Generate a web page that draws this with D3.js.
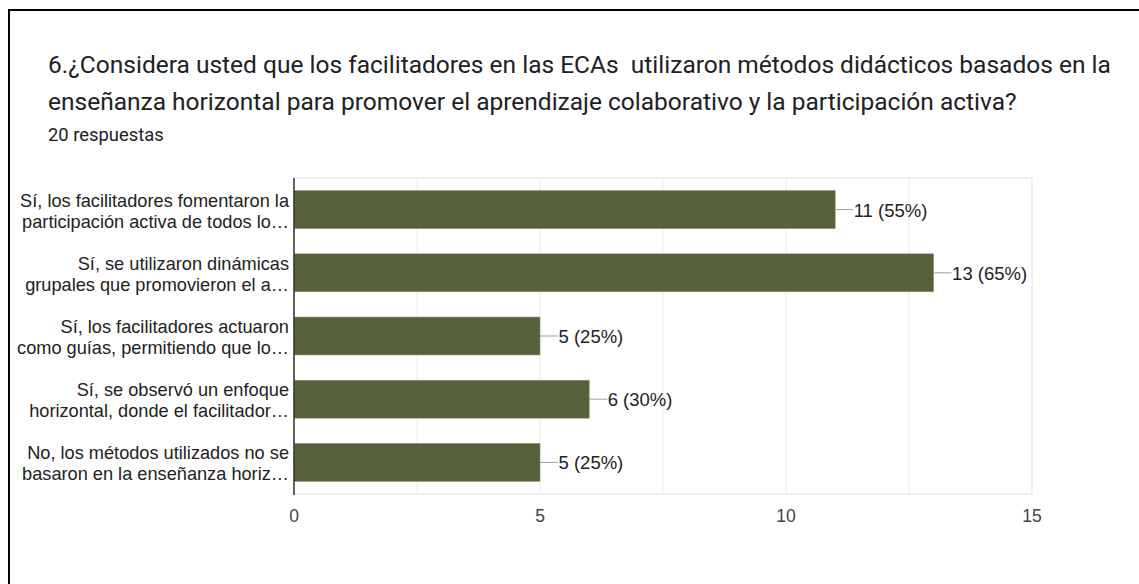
<!DOCTYPE html>
<html lang="es">
  <head>
    <meta charset="UTF-8" />
    <script src="https://d3js.org/d3.v7.min.js"></script>
    <style>
      body { margin: 0; background: #fff; }
    </style>
  </head>

  <body>
    <script>
      var width = 1139,
        height = 584;

      // datos
      var titleLines = [
        "6.¿Considera usted que los facilitadores en las ECAs  utilizaron métodos didácticos basados en la",
        "enseñanza horizontal para promover el aprendizaje colaborativo y la participación activa?"
      ];
      var subtitle = "20 respuestas";
      var categories = [
        ["Sí, los facilitadores fomentaron la", "participación activa de todos lo…"],
        ["Sí, se utilizaron dinámicas", "grupales que promovieron el a…"],
        ["Sí, los facilitadores actuaron", "como guías, permitiendo que lo…"],
        ["Sí, se observó un enfoque", "horizontal, donde el facilitador…"],
        ["No, los métodos utilizados no se", "basaron en la enseñanza horiz…"]
      ];
      var counts = [11, 13, 5, 6, 5];
      var percents = [55, 65, 25, 30, 25];
      var xTicks = [0, 5, 10, 15];
      var gridTicks = [2.5, 5, 7.5, 10, 12.5];

      var svg = d3
        .select("body")
        .append("svg")
        .attr("width", width)
        .attr("height", height);

      // marco (solo arriba e izquierda)
      svg.append("line")
        .attr("x1", 8).attr("x2", width).attr("y1", 10).attr("y2", 10)
        .attr("stroke", "#000").attr("stroke-width", 2);
      svg.append("line")
        .attr("x1", 9).attr("x2", 9).attr("y1", 9).attr("y2", height)
        .attr("stroke", "#000").attr("stroke-width", 2);

      // titulo
      svg.selectAll(".title")
        .data(titleLines)
        .enter()
        .append("text")
        .attr("class", "title")
        .attr("x", 48)
        .attr("y", function (d, i) { return 73 + i * 37; })
        .style("font-family", "Roboto, sans-serif")
        .style("font-size", "24.5px")
        .style("white-space", "pre")
        .style("fill", "#202124")
        .text(function (d) { return d; });

      svg.append("text")
        .attr("x", 48)
        .attr("y", 141)
        .style("font-family", "Roboto, sans-serif")
        .style("font-size", "18.4px")
        .style("fill", "#202124")
        .text(subtitle);

      var plotLeft = 294, plotRight = 1032, plotTop = 178, plotBottom = 494;

      var x = d3.scaleLinear().domain([0, 15]).range([plotLeft, plotRight]);
      var y = d3.scaleBand()
        .domain(d3.range(categories.length))
        .range([plotTop, plotBottom])
        .paddingInner(0.4)
        .paddingOuter(0.2);

      // marco del grafico
      svg.append("rect")
        .attr("x", plotLeft).attr("y", plotTop)
        .attr("width", plotRight - plotLeft).attr("height", plotBottom - plotTop)
        .attr("fill", "none").attr("stroke", "#ebebeb").attr("stroke-width", 1.5);

      svg.selectAll(".grid")
        .data(gridTicks)
        .enter()
        .append("line")
        .attr("class", "grid")
        .attr("x1", function (d) { return x(d); })
        .attr("x2", function (d) { return x(d); })
        .attr("y1", plotTop).attr("y2", plotBottom)
        .attr("stroke", "#ebebeb").attr("stroke-width", 1);

      // barras
      svg.selectAll(".bar")
        .data(counts)
        .enter()
        .append("rect")
        .attr("class", "bar")
        .attr("x", x(0))
        .attr("y", function (d, i) { return y(i); })
        .attr("width", function (d) { return x(d) - x(0); })
        .attr("height", y.bandwidth())
        .attr("fill", "#56613a")
        .attr("stroke", "#8a9272")
        .attr("stroke-width", 0.6);

      // eje izquierdo
      svg.append("line")
        .attr("x1", plotLeft).attr("x2", plotLeft)
        .attr("y1", plotTop).attr("y2", plotBottom + 1)
        .attr("stroke", "#333").attr("stroke-width", 1.5);

      // etiquetas de valor
      var labels = svg.selectAll(".val")
        .data(counts)
        .enter()
        .append("g")
        .attr("class", "val");

      labels.append("line")
        .attr("x1", function (d) { return x(d); })
        .attr("x2", function (d) { return x(d) + 18; })
        .attr("y1", function (d, i) { return y(i) + y.bandwidth() / 2; })
        .attr("y2", function (d, i) { return y(i) + y.bandwidth() / 2; })
        .attr("stroke", "#9e9e9e").attr("stroke-width", 1);

      labels.append("text")
        .attr("x", function (d) { return x(d) + 18.5; })
        .attr("y", function (d, i) { return y(i) + y.bandwidth() / 2 + 7; })
        .style("font-family", "'Liberation Sans', Arial, sans-serif")
        .style("font-size", "18.5px")
        .style("fill", "#222")
        .text(function (d, i) { return d + " (" + percents[i] + "%)"; });

      // etiquetas de categorias
      var cats = svg.selectAll(".cat")
        .data(categories)
        .enter()
        .append("text")
        .attr("class", "cat")
        .attr("text-anchor", "end")
        .style("font-family", "'Liberation Sans', Arial, sans-serif")
        .style("font-size", "18.2px")
        .style("fill", "#222");

      cats.selectAll("tspan")
        .data(function (d, i) {
          return d.map(function (t, j) { return { t: t, i: i, j: j }; });
        })
        .enter()
        .append("tspan")
        .attr("x", 289)
        .attr("y", function (d) { return y(d.i) + y.bandwidth() / 2 - 3 + d.j * 21; })
        .text(function (d) { return d.t; });

      // eje x
      svg.selectAll(".tick")
        .data(xTicks)
        .enter()
        .append("text")
        .attr("class", "tick")
        .attr("x", function (d) { return x(d); })
        .attr("y", 522)
        .attr("text-anchor", "middle")
        .style("font-family", "'Liberation Sans', Arial, sans-serif")
        .style("font-size", "17.5px")
        .style("fill", "#444")
        .text(function (d) { return d; });
    </script>
  </body>
</html>
